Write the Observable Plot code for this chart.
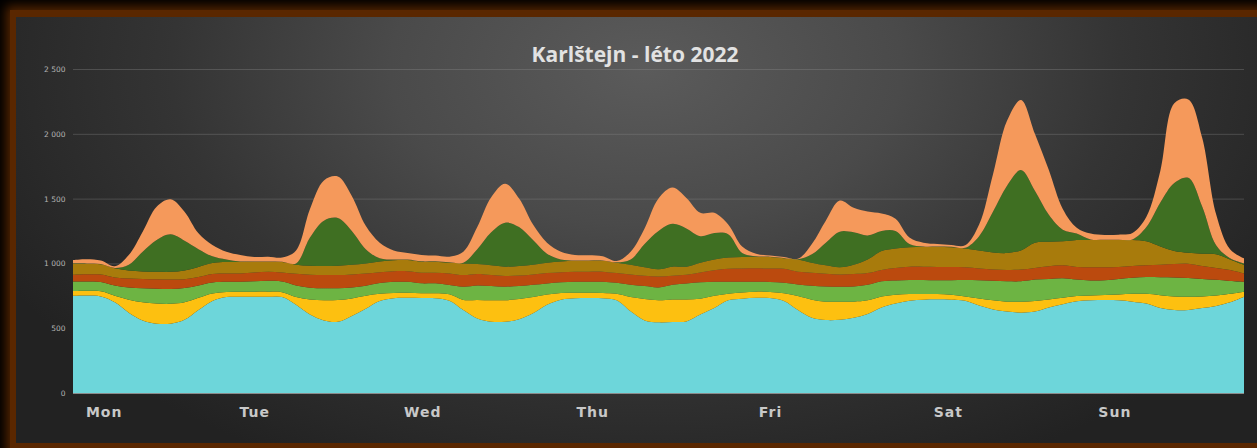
<!DOCTYPE html>
<html>
<head>
<meta charset="utf-8">
<script src="https://cdn.jsdelivr.net/npm/d3@7"></script>
<script src="https://cdn.jsdelivr.net/npm/@observablehq/plot@0.6"></script>
<style>
html, body { margin: 0; padding: 0; background: #000; }
#outer { position: relative; width: 1257px; height: 448px; overflow: hidden; background: #000; }
#frame { position: absolute; left: 10px; top: 10px; width: 1300px; height: 470px; background: #5a2700; box-shadow: 0 0 10px 4px rgba(110, 48, 0, 0.75); }
#panel { position: absolute; left: 16px; top: 17px; width: 1260px; height: 426px;
  background: radial-gradient(ellipse 58% 105% at 50% 12%, #5b5b5b 0%, #4a4a4a 35%, #343434 65%, #222 100%); }
#title { position: absolute; left: 0; width: 1270px; top: 44px; text-align: center;
  font-family: "Open Sans", sans-serif; font-weight: 700; font-size: 21px; line-height: 21px; color: #e2e2e2; }
#chart { position: absolute; left: 0; top: 56px; }
.daylabels text { letter-spacing: 1px; }
</style>
</head>
<body>
<div id="outer">
  <div id="frame"></div>
  <div id="panel"></div>
  <div id="title">Karlštejn - léto 2022</div>
  <div id="chart"></div>
</div>
<script>
// hour of the week (Mon 00:00 = 0)
const hours = [0,2,4,6,8,10,12,14,16,18,20,22,24,
  26,28,30,32,34,36,38,40,42,44,46,48,
  50,52,54,56,58,60,62,64,66,68,70,72,
  74,76,78,80,82,84,86,88,90,92,94,96,
  98,100,102,104,106,108,110,112,114,116,118,120,
  122,124,126,128,130,132,134,136,138,140,142,144,
  146,148,150,152,154,156,158,160,162,164,166,168];

const seriesNames = ["tyrkysová", "žlutá", "světle zelená", "červená", "okrová", "tmavě zelená", "oranžová"];

const cyanValues = [750,752,745,700,620,560,535,535,565,640,710,740,742,
  742,743,740,680,605,560,550,595,650,710,732,735,
  733,731,712,640,575,550,550,570,615,680,720,731,
  733,731,715,630,560,545,548,552,605,655,715,728,
  735,733,710,640,580,563,565,580,610,660,690,712,
  720,723,720,712,675,645,628,620,628,660,685,708,
  715,718,716,705,690,655,640,640,655,672,700,743];

const yellowValues = [37,37,40,50,100,140,155,153,135,95,58,40,40,
  40,39,38,60,117,156,168,135,100,55,40,39,
  37,38,49,78,143,166,166,155,125,80,52,43,
  41,41,50,110,165,170,174,170,123,95,50,47,
  47,47,60,108,140,142,140,125,105,85,68,52,
  44,41,38,33,55,70,77,85,82,62,50,40,
  37,38,44,60,75,100,105,103,90,80,65,39];

const lightGreenValues = [73,72,72,80,95,108,115,115,110,95,85,78,76,
  80,84,82,90,90,92,90,85,78,83,86,84,
  76,77,72,102,112,109,104,100,95,85,83,85,
  84,86,85,95,100,100,113,123,127,109,94,84,
  77,77,80,90,108,117,115,117,120,117,110,108,
  108,106,112,127,140,151,157,157,165,158,150,127,
  116,114,120,125,130,138,147,145,135,121,100,77];

const redValues = [52,55,58,62,68,72,73,72,68,65,65,64,64,
  68,69,70,90,100,102,102,100,94,84,82,82,
  82,82,90,90,88,85,83,81,80,80,77,77,
  78,78,75,80,80,83,70,67,75,89,99,101,
  103,103,108,97,100,98,95,96,90,88,97,103,
  103,103,102,98,90,86,88,90,90,98,100,97,
  102,100,92,90,90,97,103,110,100,92,85,64];

const oliveValues = [85,82,78,70,62,58,58,60,68,78,85,88,88,
  82,78,80,70,70,70,72,75,78,83,85,86,
  85,85,82,90,77,75,72,74,75,80,83,84,
  85,85,80,75,65,57,70,63,75,82,87,90,
  90,90,82,95,77,65,55,72,105,145,150,150,
  152,154,153,145,140,133,130,148,195,190,185,208,
  210,210,208,200,185,140,100,84,95,105,80,65];

const darkGreenValues = [3,2,2,3,45,152,244,289,229,137,52,20,5,
  3,2,2,10,218,350,368,260,110,25,5,4,
  3,3,3,5,115,255,339,300,190,70,15,2,
  2,2,3,40,180,295,330,295,205,205,180,30,
  3,2,2,2,65,175,275,250,185,155,135,25,
  3,3,3,5,110,315,520,620,400,207,90,50,
  5,3,3,5,110,340,525,578,365,70,10,12];

const orangeValues = [26,32,27,13,75,155,258,271,224,122,87,60,50,
  35,37,33,100,220,310,320,270,180,120,70,50,
  49,44,44,85,170,270,301,220,120,85,60,43,
  39,32,10,60,120,250,280,235,180,155,75,50,
  20,8,8,3,80,170,240,190,185,135,95,50,
  30,20,14,20,90,290,500,540,440,345,160,45,
  45,37,39,50,80,245,615,605,530,240,70,39];

const dayNames = ["Mon", "Tue", "Wed", "Thu", "Fri", "Sat", "Sun"];
const dayLabelHours = [4.4, 26, 50.1, 74.5, 100, 125.5, 149.4];

const yTicks = [0, 500, 1000, 1500, 2000, 2500];
const yTickLabels = ["0", "500", "1 000", "1 500", "2 000", "2 500"];

const seriesColors = ["#6dd6da", "#fdc010", "#6db443", "#bb4a0e", "#a87b0c", "#3f6f22", "#f5995b"];

const allValues = [cyanValues, yellowValues, lightGreenValues, redValues, oliveValues, darkGreenValues, orangeValues];
const rows = [];
seriesNames.forEach((s, k) => allValues[k].forEach((v, i) => rows.push({hour: hours[i], series: s, value: v})));
const dayRows = dayNames.map((d, i) => ({day: d, hour: dayLabelHours[i]}));

const chart = Plot.plot({
  width: 1257,
  height: 392,
  marginLeft: 73,
  marginRight: 13,
  marginTop: 13,
  marginBottom: 55,
  style: {background: "transparent", overflow: "visible", fontFamily: "DejaVu Sans, sans-serif"},
  x: {domain: [0, 168], axis: null},
  y: {domain: [0, 2500]},
  color: {domain: seriesNames, range: seriesColors},
  marks: [
    Plot.gridY(yTicks.filter(d => d > 0), {stroke: "#8c8c8c", strokeOpacity: 0.35}),
    Plot.areaY(rows, {x: "hour", y: "value", fill: "series", z: "series", order: seriesNames, curve: "catmull-rom"}),
    Plot.ruleY([0], {stroke: "#8a8a8a", strokeWidth: 1}),
    Plot.axisY({ticks: yTicks, tickFormat: d => yTickLabels[yTicks.indexOf(d)], tickSize: 0, tickPadding: 8,
      fontSize: 7.5, fill: "#b4b4b4", label: null}),
    Plot.text(dayRows, {x: "hour", y: 0, text: "day", dy: 19, fontSize: 14, fontWeight: "bold",
      fontFamily: "DejaVu Sans, sans-serif", fill: "#c8c8c8", className: "daylabels"})
  ]
});
document.getElementById("chart").appendChild(chart);
</script>
</body>
</html>
